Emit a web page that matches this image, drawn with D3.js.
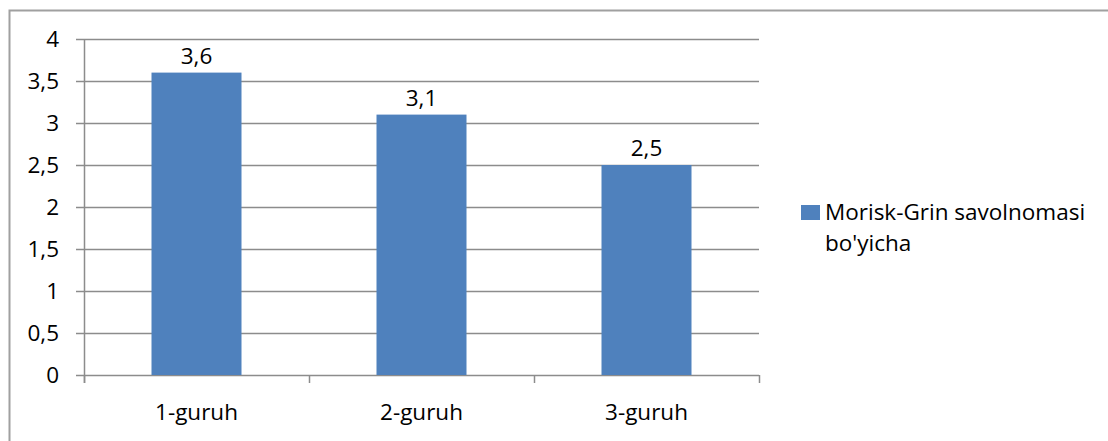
<!DOCTYPE html>
<html>
<head>
<meta charset="utf-8">
<script src="https://cdn.jsdelivr.net/npm/d3@7"></script>
<style>
  body { margin: 0; background: #fff; }
  .chart text { font-family: "Open Sans", Lato, sans-serif; fill: #000; }
</style>
</head>
<body>
<div class="chart"></div>
<script>
// chart values
var categories = ["1-guruh", "2-guruh", "3-guruh"];
var values = [3.6, 3.1, 2.5];
var valueLabels = ["3,6", "3,1", "2,5"];
var yTicks = [0, 0.5, 1, 1.5, 2, 2.5, 3, 3.5, 4];
var yTickLabels = ["0", "0,5", "1", "1,5", "2", "2,5", "3", "3,5", "4"];
var seriesName = ["Morisk-Grin savolnomasi", "bo'yicha"];

var svgWidth = 1108;
var svgHeight = 441;

var margin = { top: 39, left: 84 };
var width = 675;
var height = 336;
var fontSize = "22.5px";

var svg = d3.select(".chart")
  .append("svg")
  .attr("width", svgWidth)
  .attr("height", svgHeight);

// outer frame (right and bottom fall off the picture)
svg.append("rect")
  .attr("x", 9.5).attr("y", 10.5)
  .attr("width", 1120).attr("height", 460)
  .attr("fill", "none")
  .attr("stroke", "#a0a0a0")
  .attr("stroke-width", 2);

var chart = svg.append("g")
  .attr("transform", "translate(" + margin.left + "," + margin.top + ")");

var xScale = d3.scaleBand()
  .domain(categories)
  .range([0, width])
  .paddingInner(0.6)
  .paddingOuter(0.3);

var yScale = d3.scaleLinear()
  .domain([0, 4])
  .range([height, 0]);

// gridlines
chart.append("g")
  .selectAll("line")
  .data(yTicks)
  .enter().append("line")
  .attr("x1", -8)
  .attr("x2", width)
  .attr("y1", function(d) { return Math.round(yScale(d)) + 0.5; })
  .attr("y2", function(d) { return Math.round(yScale(d)) + 0.5; })
  .attr("stroke", "#8c8c8c")
  .attr("stroke-width", 1.5);

// y tick labels
chart.append("g")
  .selectAll("text")
  .data(yTicks)
  .enter().append("text")
  .attr("x", -25)
  .attr("y", function(d) { return yScale(d); })
  .attr("dy", "0.36em")
  .attr("text-anchor", "end")
  .style("font-size", fontSize)
  .text(function(d, i) { return yTickLabels[i]; });

// bars
chart.selectAll("rect.bar")
  .data(values)
  .enter().append("rect")
  .attr("class", "bar")
  .attr("x", function(d, i) { return xScale(categories[i]); })
  .attr("y", function(d) { return yScale(d); })
  .attr("width", xScale.bandwidth())
  .attr("height", function(d) { return height - yScale(d); })
  .attr("fill", "#4f81bd");

// value labels
chart.selectAll("text.val")
  .data(values)
  .enter().append("text")
  .attr("class", "val")
  .attr("x", function(d, i) { return xScale(categories[i]) + xScale.bandwidth() / 2; })
  .attr("y", function(d) { return yScale(d) - 9; })
  .attr("text-anchor", "middle")
  .style("font-size", fontSize)
  .text(function(d, i) { return valueLabels[i]; });

// y axis line
chart.append("line")
  .attr("x1", 0.5).attr("x2", 0.5)
  .attr("y1", 0).attr("y2", height + 8)
  .attr("stroke", "#8c8c8c")
  .attr("stroke-width", 1.5);

// x axis ticks
var step = width / categories.length;
chart.append("g")
  .selectAll("line")
  .data(d3.range(categories.length + 1))
  .enter().append("line")
  .attr("x1", function(d) { return Math.round(d * step) + 0.5; })
  .attr("x2", function(d) { return Math.round(d * step) + 0.5; })
  .attr("y1", height)
  .attr("y2", height + 8)
  .attr("stroke", "#8c8c8c")
  .attr("stroke-width", 1.5);

// x labels
chart.append("g")
  .selectAll("text")
  .data(categories)
  .enter().append("text")
  .attr("x", function(d) { return xScale(d) + xScale.bandwidth() / 2; })
  .attr("y", height + 45)
  .attr("text-anchor", "middle")
  .style("font-size", fontSize)
  .text(function(d) { return d; });

// legend
var legend = svg.append("g")
  .attr("transform", "translate(801,205)");

legend.append("rect")
  .attr("width", 19)
  .attr("height", 15)
  .attr("fill", "#4f81bd");

legend.selectAll("text")
  .data(seriesName)
  .enter().append("text")
  .attr("x", 24)
  .attr("y", function(d, i) { return 15 + i * 31; })
  .style("font-size", fontSize)
  .text(function(d) { return d; });
</script>
</body>
</html>
